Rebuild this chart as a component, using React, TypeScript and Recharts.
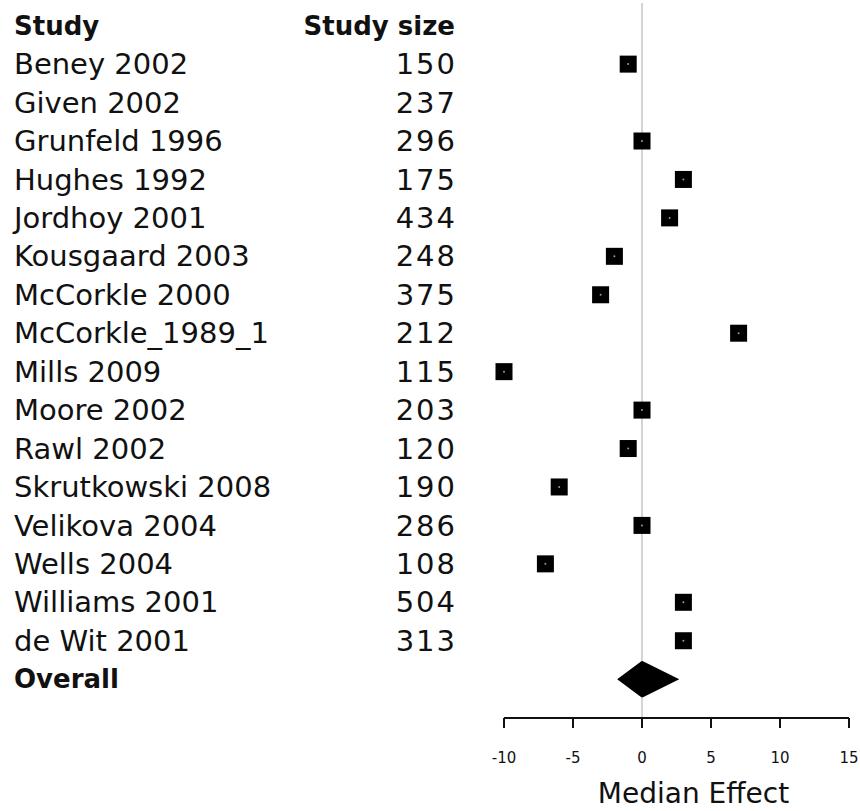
import {
  ReferenceArea,
  ReferenceLine,
  Scatter,
  ScatterChart,
  XAxis,
  YAxis,
} from 'recharts'

const studies = [
  'Beney 2002',
  'Given 2002',
  'Grunfeld 1996',
  'Hughes 1992',
  'Jordhoy 2001',
  'Kousgaard 2003',
  'McCorkle 2000',
  'McCorkle_1989_1',
  'Mills 2009',
  'Moore 2002',
  'Rawl 2002',
  'Skrutkowski 2008',
  'Velikova 2004',
  'Wells 2004',
  'Williams 2001',
  'de Wit 2001',
]
const studySizes = [150, 237, 296, 175, 434, 248, 375, 212, 115, 203, 120, 190, 286, 108, 504, 313]
// Given 2002 has no plotted estimate
const effects: (number | null)[] = [-1, null, 0, 3, 2, -2, -3, 7, -10, 0, -1, -6, 0, -7, 3, 3]
const overallEstimate = 0
const overallLower = -1.8
const overallUpper = 2.7
const xTicks = [-10, -5, 0, 5, 10, 15]

const OVERALL_ROW = studies.length
const HEADER_ROW = -1
const ROW_TOP = -1.59
const ROW_BOTTOM = 17.01
const DIAMOND_HALF = 0.48
const FONT = '"DejaVu Sans", sans-serif'
const INK = '#111'

const points = effects
  .map((effect, row) => ({ effect, row }))
  .filter((p) => p.effect !== null)

const rowTicks = [HEADER_ROW, ...studies.map((_, i) => i), OVERALL_ROW]

function RowLabel(props: any) {
  const { y, payload } = props
  const row = payload.value as number
  if (row === HEADER_ROW) {
    return (
      <g fontFamily={FONT} fontWeight="bold" fontSize={26} fill={INK}>
        <text x={14} y={y} dy="0.35em" textAnchor="start">Study</text>
        <text x={455} y={y} dy="0.35em" textAnchor="end">Study size</text>
      </g>
    )
  }
  if (row === OVERALL_ROW) {
    return (
      <text x={14} y={y} dy="0.35em" fontFamily={FONT} fontWeight="bold" fontSize={26} fill={INK}>
        Overall
      </text>
    )
  }
  return (
    <g fontFamily={FONT} fontSize={29} fill={INK}>
      <text x={14} y={y} dy="0.35em" textAnchor="start">{studies[row]}</text>
      <text x={457} y={y} dy="0.35em" textAnchor="end" letterSpacing={2}>
        {studySizes[row]}
      </text>
    </g>
  )
}

function SquareMark(props: any) {
  const { cx, cy } = props
  const s = 17
  return (
    <g>
      <rect x={cx - s / 2} y={cy - s / 2} width={s} height={s} fill="#000" />
      <circle cx={cx} cy={cy} r={1} fill="#999" />
    </g>
  )
}

function Diamond(props: any) {
  const { x, y, width, height } = props
  // apex sits at the overall estimate inside the lower..upper box
  const apex = x + (width * (overallEstimate - overallLower)) / (overallUpper - overallLower)
  const mid = y + height / 2
  return (
    <polygon
      points={`${x},${mid} ${apex},${y} ${x + width},${mid} ${apex},${y + height}`}
      fill="#000"
    />
  )
}

export default function App() {
  return (
    <div style={{ position: 'absolute', left: 0, top: 0, background: '#fff' }}>
      <ScatterChart width={860} height={811} margin={{ top: 3, right: 11, bottom: 0, left: 0 }}>
        <XAxis
          type="number"
          dataKey="effect"
          domain={[-10, 15]}
          ticks={xTicks}
          height={93}
          stroke={INK}
          strokeWidth={2}
          tickSize={10}
          tickMargin={24}
          tick={{ fontSize: 15, fill: INK, fontFamily: FONT }}
          label={{
            value: 'Median Effect',
            position: 'insideBottom',
            offset: 8,
            dx: 17,
            fontSize: 28,
            fill: INK,
            fontFamily: FONT,
          }}
        />
        <YAxis
          type="number"
          dataKey="row"
          reversed
          domain={[ROW_TOP, ROW_BOTTOM]}
          ticks={rowTicks}
          interval={0}
          width={504}
          axisLine={false}
          tickLine={false}
          tick={<RowLabel />}
        />
        {/* zero line, broken where the overall diamond sits */}
        <ReferenceLine
          segment={[
            { x: 0, y: ROW_TOP },
            { x: 0, y: OVERALL_ROW - DIAMOND_HALF },
          ]}
          stroke="#d4d4d4"
          strokeWidth={2}
        />
        <ReferenceLine
          segment={[
            { x: 0, y: OVERALL_ROW + DIAMOND_HALF },
            { x: 0, y: ROW_BOTTOM },
          ]}
          stroke="#d4d4d4"
          strokeWidth={2}
        />
        <ReferenceArea
          x1={overallLower}
          x2={overallUpper}
          y1={OVERALL_ROW - DIAMOND_HALF}
          y2={OVERALL_ROW + DIAMOND_HALF}
          shape={<Diamond />}
        />
        <Scatter data={points} shape={<SquareMark />} isAnimationActive={false} />
      </ScatterChart>
    </div>
  )
}
